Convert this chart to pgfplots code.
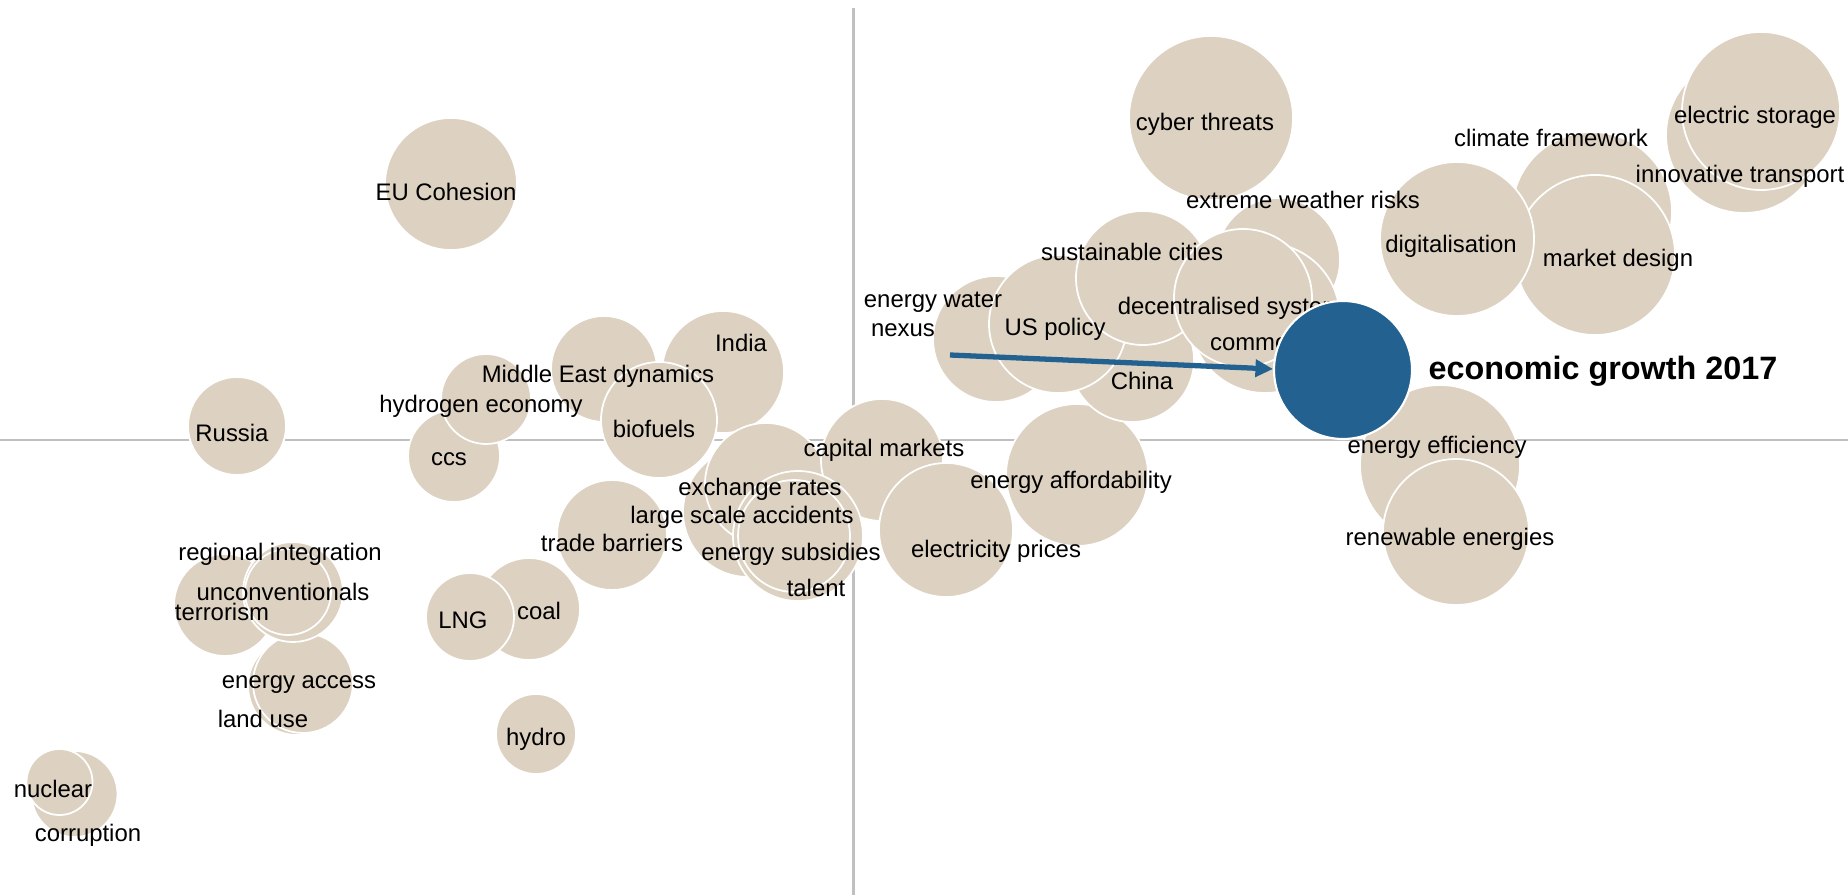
\documentclass[border=0pt]{standalone}
\usepackage{pgfplots}
\pgfplotsset{compat=1.18}
\usepackage{pgfplotstable}
\usepackage{fontspec}
\setmainfont{Liberation Sans}
\usetikzlibrary{arrows.meta}

\definecolor{beige}{RGB}{221,209,193}
\definecolor{ecoblue}{RGB}{35,97,145}
\definecolor{crossgrey}{RGB}{192,192,192}

\newcommand{\labfont}{\fontsize{6.8}{8}\selectfont}

% bubbles: centre and radius in pixels of the original picture
\pgfplotstableread{
x y r
74.5 794 43
59.5 782 33
297 686 49
303 683 50
225 605 51
293 592 50
288 592 43
237 426 49
536 734 40
529 609 51
470 617 44
454 456 46
486 399 45
451 184 66
604 369 53
723 372 61
659 420 58
612 535 55
748 512 65
766 484 61
882 460 61
798 536 65
794 536 56
946 530 67
996 339 63
1077 475 71
1132 360 62
1058 324 69
1143 278 67
1211 118 82
1278 260 62
1265 318 75
1243 298 69
1592 212 80
1595 255 80
1457 239 77
1744 135 78
1761 111 79
1440 465 80
1456 532 73
}\bubbles

\pgfplotstableread[col sep=comma]{
x,y,label
88,830.5,corruption
53,786.5,nuclear
263,716.5,land use
299,677.5,energy access
222,609.5,terrorism
283,589.5,unconventionals
280,549.5,regional integration
232,430.5,Russia
446,189.5,EU Cohesion
481,401.5,hydrogen economy
449,454.5,ccs
598,371.5,Middle East dynamics
741,340.5,India
654,426.5,biofuels
463,617.5,LNG
539,608.5,coal
536,734.5,hydro
612,540.5,trade barriers
760,484.5,exchange rates
742,512.5,large scale accidents
791,549.5,energy subsidies
816,585.5,talent
884,445.5,capital markets
996,546.5,electricity prices
1071,477.5,energy affordability
933,296.5,energy water
903,325.5,nexus
1055,324.5,US policy
1142,378.5,China
1132,249.5,sustainable cities
1236,303.5,decentralised systems
1303,339.5,commodity prices
1303,197.5,extreme weather risks
1205,119.5,cyber threats
1451,241.5,digitalisation
1618,255.5,market design
1551,135.5,climate framework
1755,112.5,electric storage
1740,171.5,innovative transport
1437,442.5,energy efficiency
1450,534.5,renewable energies
}\labels

\begin{document}
\begin{tikzpicture}
\begin{axis}[
  scale only axis,
  width=18.48cm, height=8.95cm,
  xmin=0, xmax=1848,
  ymin=0, ymax=895,
  y dir=reverse,
  hide axis,
  clip=false,
  clip mode=individual,
]
% quadrant lines
\addplot[crossgrey, line width=0.6pt] coordinates {(853.5,8) (853.5,895)};
\addplot[crossgrey, line width=0.6pt] coordinates {(0,440) (1848,440)};

% issue bubbles
\addplot[scatter, only marks, mark=*,
  scatter/use mapped color={draw=white, fill=beige},
  visualization depends on={0.28453*\thisrow{r} \as \rad},
  scatter/@pre marker code/.append style={/tikz/mark size=\rad},
  mark options={line width=0.5pt}]
  table[x=x, y=y] {\bubbles};

% issue labels
\addplot[only marks, mark=none,
  point meta=explicit symbolic,
  nodes near coords,
  every node near coord/.append style={font=\labfont, anchor=center,
    inner sep=0pt, text height=1.45ex, text depth=0.3ex, text=black}]
  table[x=x, y=y, meta=label] {\labels};

% highlighted bubble
\addplot[only marks, mark=*, mark size=19.63,
  mark options={fill=ecoblue, draw=white, line width=0.6pt}]
  coordinates {(1343,370)};
\addplot[only marks, mark=none,
  point meta=explicit symbolic,
  nodes near coords,
  every node near coord/.append style={font=\fontsize{9.2}{11}\selectfont\bfseries,
    anchor=west, inner sep=0pt, text=black}]
  coordinates {(1428,371) [economic growth 2017]};

% arrow
\addplot[ecoblue, line width=1.5pt, -{Triangle[length=5pt, width=4.8pt]}]
  coordinates {(950,355) (1273,369)};
\end{axis}
\pgfresetboundingbox
\path (current axis.south west) rectangle (current axis.north east);
\end{tikzpicture}
\end{document}
